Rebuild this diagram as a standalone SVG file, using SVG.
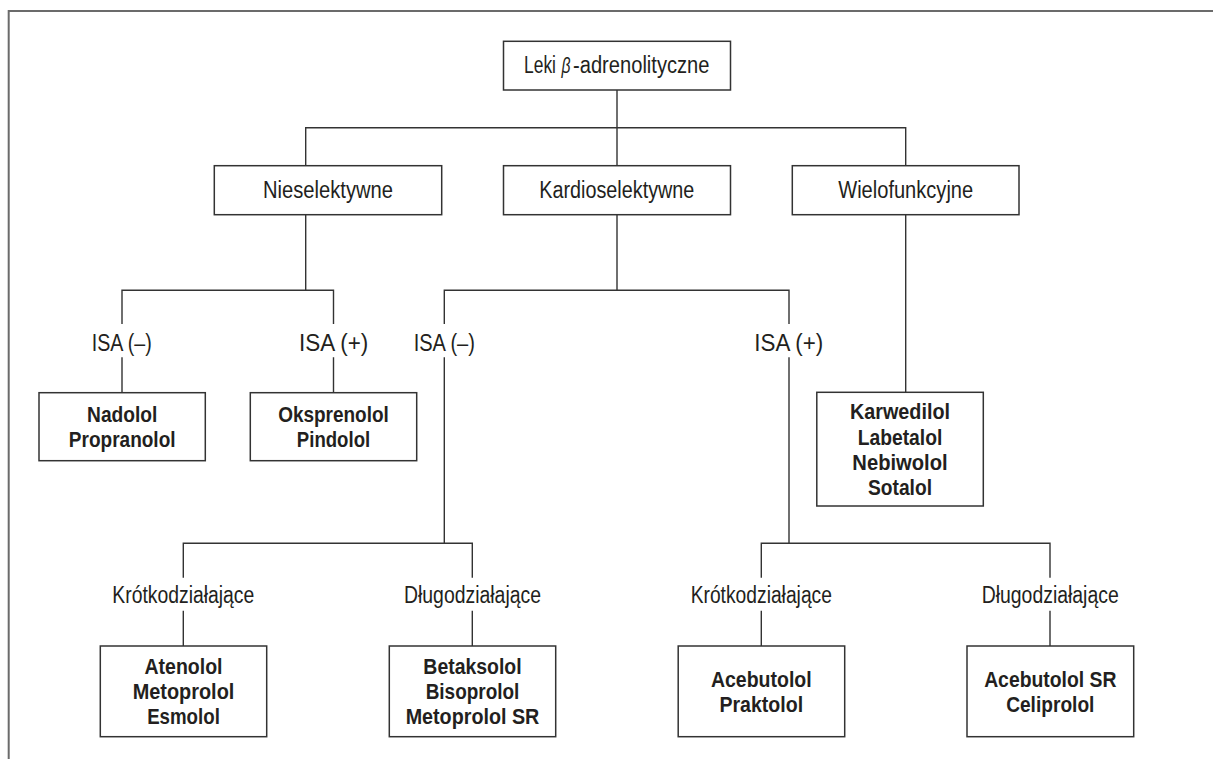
<svg xmlns="http://www.w3.org/2000/svg" width="1213" height="759" viewBox="0 0 1213 759">
  <style>
    .frame { fill: none; stroke: #6b6b6b; stroke-width: 2; }
    .box { fill: #ffffff; stroke: #333333; stroke-width: 1.5; }
    .wire { fill: none; stroke: #333333; stroke-width: 1.4; }
    .t { font-family: "Liberation Sans Narrow", "Liberation Sans", Arial, sans-serif; font-size: 23px; fill: #231f20; text-anchor: middle; }
    .s { text-anchor: start; }
    .e { text-anchor: end; }
    .b { font-family: "Liberation Sans Narrow", "Liberation Sans", Arial, sans-serif; font-size: 22px; font-weight: bold; fill: #231f20; text-anchor: middle; }
  </style>
  <rect width="1213" height="759" fill="#ffffff"/>
  <path class="frame" d="M 8.7 759 V 11 H 1213"/>

  <g id="connectors">
    <path class="wire" d="M 617 90 V 127.7 M 305.7 165.7 V 127.7 H 905.7 V 165.7 M 617 127.7 V 165.7"/>
    <path class="wire" d="M 305.7 215 V 290.3 M 122 324 V 290.3 H 333.5 V 324 M 122 357.3 V 392.7 M 333.5 357.3 V 392.7"/>
    <path class="wire" d="M 617 214.7 V 290.3 M 444.3 324 V 290.3 H 789 V 324 M 444.3 357.3 V 543.3 M 789 357.3 V 543.3"/>
    <path class="wire" d="M 905.7 214.7 V 392.3"/>
    <path class="wire" d="M 183.3 577.7 V 543.3 H 472.3 V 577.7 M 183.3 610.7 V 646 M 472.3 610.7 V 646"/>
    <path class="wire" d="M 761.3 577.7 V 543.3 H 1050 V 577.7 M 761.3 610.7 V 646 M 1050 610.7 V 646"/>
  </g>

  <g id="n-root">
    <rect class="box" x="503.5" y="41.3" width="227" height="48.7"/>
    <text class="t e" x="556" y="73" textLength="32" lengthAdjust="spacingAndGlyphs">Leki</text>
    <text class="t" x="566" y="73" font-style="italic" textLength="9" lengthAdjust="spacingAndGlyphs">β</text>
    <text class="t s" x="573" y="73" textLength="136.5" lengthAdjust="spacingAndGlyphs">-adrenolityczne</text>
  </g>

  <g id="n-nieselektywne">
    <rect class="box" x="214.3" y="165.7" width="227.4" height="49"/>
    <text class="t" x="328" y="198.3" textLength="130" lengthAdjust="spacingAndGlyphs">Nieselektywne</text>
  </g>
  <g id="n-kardioselektywne">
    <rect class="box" x="503.5" y="165.7" width="227" height="49"/>
    <text class="t" x="616.8" y="198.3" textLength="155" lengthAdjust="spacingAndGlyphs">Kardioselektywne</text>
  </g>
  <g id="n-wielofunkcyjne">
    <rect class="box" x="792.3" y="165.7" width="226.7" height="49"/>
    <text class="t" x="905.7" y="198.3" textLength="135" lengthAdjust="spacingAndGlyphs">Wielofunkcyjne</text>
  </g>

  <g id="n-isa-minus-1">
    <text class="t" x="121.7" y="350.7" textLength="60" lengthAdjust="spacingAndGlyphs">ISA (–)</text>
  </g>
  <g id="n-isa-plus-1">
    <text class="t" x="333.7" y="350.7" textLength="69.3" lengthAdjust="spacingAndGlyphs">ISA (+)</text>
  </g>
  <g id="n-isa-minus-2">
    <text class="t" x="444.3" y="350.7" textLength="61.3" lengthAdjust="spacingAndGlyphs">ISA (–)</text>
  </g>
  <g id="n-isa-plus-2">
    <text class="t" x="788.8" y="350.7" textLength="69" lengthAdjust="spacingAndGlyphs">ISA (+)</text>
  </g>

  <g id="n-nadolol">
    <rect class="box" x="39" y="392.7" width="166.3" height="68"/>
    <text class="b" x="122.2" y="421.7" textLength="70.3" lengthAdjust="spacingAndGlyphs">Nadolol</text>
    <text class="b" x="122.2" y="446.7" textLength="106.7" lengthAdjust="spacingAndGlyphs">Propranolol</text>
  </g>
  <g id="n-oksprenolol">
    <rect class="box" x="250.3" y="392.7" width="166.4" height="68"/>
    <text class="b" x="333.5" y="421.7" textLength="110.7" lengthAdjust="spacingAndGlyphs">Oksprenolol</text>
    <text class="b" x="333.5" y="446.7" textLength="73.3" lengthAdjust="spacingAndGlyphs">Pindolol</text>
  </g>
  <g id="n-karwedilol">
    <rect class="box" x="816.8" y="392.3" width="166.5" height="113.7"/>
    <text class="b" x="900" y="419" textLength="100" lengthAdjust="spacingAndGlyphs">Karwedilol</text>
    <text class="b" x="900" y="444.5" textLength="84.7" lengthAdjust="spacingAndGlyphs">Labetalol</text>
    <text class="b" x="900" y="470" textLength="95.3" lengthAdjust="spacingAndGlyphs">Nebiwolol</text>
    <text class="b" x="900" y="495" textLength="64" lengthAdjust="spacingAndGlyphs">Sotalol</text>
  </g>

  <g id="n-krotko-1">
    <text class="t" x="183.3" y="602.7" textLength="142" lengthAdjust="spacingAndGlyphs">Krótkodziałające</text>
  </g>
  <g id="n-dlugo-1">
    <text class="t" x="472.5" y="602.7" textLength="137" lengthAdjust="spacingAndGlyphs">Długodziałające</text>
  </g>
  <g id="n-krotko-2">
    <text class="t" x="761.3" y="602.7" textLength="141.3" lengthAdjust="spacingAndGlyphs">Krótkodziałające</text>
  </g>
  <g id="n-dlugo-2">
    <text class="t" x="1050.2" y="602.7" textLength="137" lengthAdjust="spacingAndGlyphs">Długodziałające</text>
  </g>

  <g id="n-atenolol">
    <rect class="box" x="100.3" y="646" width="166.4" height="90.7"/>
    <text class="b" x="183.5" y="674.3" textLength="78" lengthAdjust="spacingAndGlyphs">Atenolol</text>
    <text class="b" x="183.5" y="699.3" textLength="101.7" lengthAdjust="spacingAndGlyphs">Metoprolol</text>
    <text class="b" x="183.5" y="724.3" textLength="72.7" lengthAdjust="spacingAndGlyphs">Esmolol</text>
  </g>
  <g id="n-betaksolol">
    <rect class="box" x="389.3" y="646" width="166.4" height="90.7"/>
    <text class="b" x="472.5" y="674.3" textLength="98.3" lengthAdjust="spacingAndGlyphs">Betaksolol</text>
    <text class="b" x="472.5" y="699.3" textLength="93.7" lengthAdjust="spacingAndGlyphs">Bisoprolol</text>
    <text class="b" x="472.5" y="724.3" textLength="133.7" lengthAdjust="spacingAndGlyphs">Metoprolol SR</text>
  </g>
  <g id="n-acebutolol">
    <rect class="box" x="678.2" y="646" width="166.5" height="90.7"/>
    <text class="b" x="761.3" y="686.7" textLength="100.7" lengthAdjust="spacingAndGlyphs">Acebutolol</text>
    <text class="b" x="761.3" y="711.7" textLength="83.7" lengthAdjust="spacingAndGlyphs">Praktolol</text>
  </g>
  <g id="n-acebutolol-sr">
    <rect class="box" x="967" y="646" width="166.7" height="90.7"/>
    <text class="b" x="1050.3" y="686.7" textLength="132.3" lengthAdjust="spacingAndGlyphs">Acebutolol SR</text>
    <text class="b" x="1050.3" y="711.7" textLength="88.3" lengthAdjust="spacingAndGlyphs">Celiprolol</text>
  </g>
</svg>
